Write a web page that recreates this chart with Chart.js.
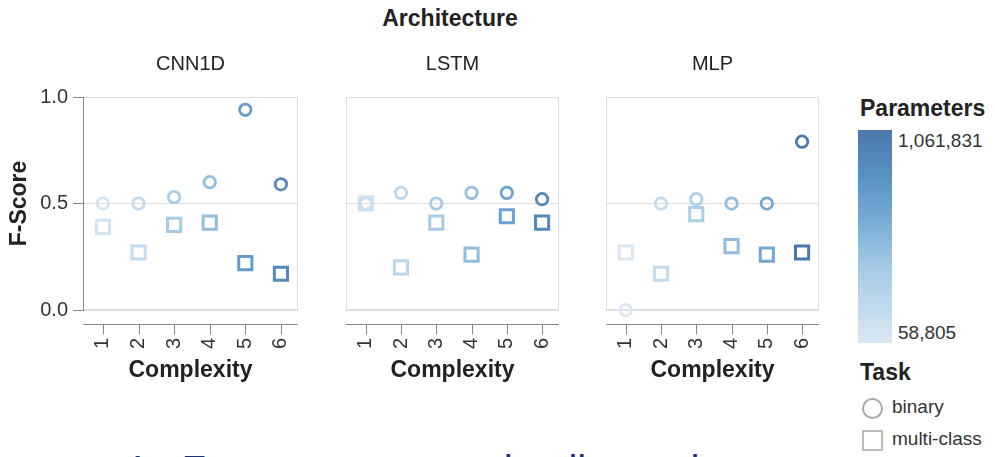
<!DOCTYPE html>
<html>
<head>
<meta charset="utf-8">
<script src="https://cdn.jsdelivr.net/npm/chart.js@4.4.0/dist/chart.umd.min.js"></script>
<style>
  body { margin: 0; width: 995px; height: 457px; overflow: hidden; background: #fff; position: relative;
         font-family: 'Liberation Sans', Arial, sans-serif; color: #222; }
  .abs { position: absolute; }
  .panel canvas { display: block; }
  #mainTitle { left: 350px; top: 4px; width: 200px; text-align: center; font-weight: bold; font-size: 23px; line-height: 28px; }
  .legTitle { font-weight: bold; font-size: 23px; line-height: 28px; }
  .legLabel { font-size: 19px; line-height: 22px; color: #333; }
  #gradBar { left: 858px; top: 130px; width: 34px; height: 213px; }
  #symCircle { left: 862px; top: 398px; width: 17px; height: 17px; border: 2px solid #aaa; border-radius: 50%; }
  #symSquare { left: 862px; top: 430px; width: 17px; height: 17px; border: 2.5px solid #bbb; }
  #caption { left: 126px; top: 450px; font-size: 40px; line-height: 40px; color: #1c3370; white-space: nowrap; }
</style>
</head>
<body>
<div id="mainTitle" class="abs">Architecture</div>

<div class="abs panel" style="left:0px;top:0px;"><canvas id="chartCNN1D" width="300" height="400"></canvas></div>
<div class="abs panel" style="left:340px;top:0px;"><canvas id="chartLSTM" width="225" height="400"></canvas></div>
<div class="abs panel" style="left:600px;top:0px;"><canvas id="chartMLP" width="225" height="400"></canvas></div>

<div class="abs legTitle" style="left:860px;top:94px;">Parameters</div>
<div id="gradBar" class="abs"></div>
<div id="paramMaxLabel" class="abs legLabel" style="left:898px;top:130px;"></div>
<div id="paramMinLabel" class="abs legLabel" style="left:898px;top:322px;"></div>
<div class="abs legTitle" style="left:860px;top:358px;">Task</div>
<div id="symCircle" class="abs"></div>
<div class="abs legLabel" style="left:892px;top:396px;">binary</div>
<div id="symSquare" class="abs"></div>
<div class="abs legLabel" style="left:892px;top:428px;">multi-class</div>

<div id="caption" class="abs">1.&nbsp;&nbsp;Fewer resources do all to reduce cost</div>

<script>
// --- data ---
var complexity = [1, 2, 3, 4, 5, 6];
var yTicks = [0, 0.5, 1];

var binaryCNN1D = [0.50, 0.50, 0.53, 0.60, 0.94, 0.59];
var multiCNN1D  = [0.39, 0.27, 0.40, 0.41, 0.22, 0.17];
var paramsCNN1D = [109000, 209000, 410000, 510000, 761000, 911000];

var binaryLSTM = [0.50, 0.55, 0.50, 0.55, 0.55, 0.52];
var multiLSTM  = [0.50, 0.20, 0.41, 0.26, 0.44, 0.41];
var paramsLSTM = [159000, 259000, 410000, 510000, 711000, 911000];

var binaryMLP = [0.00, 0.50, 0.52, 0.50, 0.50, 0.79];
var multiMLP  = [0.27, 0.17, 0.45, 0.30, 0.26, 0.27];
var paramsMLP = [58805, 209000, 360000, 510000, 661000, 1061831];

var paramMin = 58805;
var paramMax = 1061831;

// colour ramp for the Parameters scale
var rampStops = [
    [0.00, [218, 231, 243]],
    [0.35, [165, 203, 230]],
    [0.60, [115, 168, 212]],
    [0.80, [88, 143, 195]],
    [1.00, [75, 120, 172]]
];

function paramColor(p, alpha) {
    var t = (p - paramMin) / (paramMax - paramMin);
    t = Math.max(0, Math.min(1, t));
    for (var i = 1; i < rampStops.length; i++) {
        if (t <= rampStops[i][0]) {
            var a = rampStops[i - 1], b = rampStops[i];
            var f = (t - a[0]) / (b[0] - a[0]);
            var c = a[1].map(function(v, k) { return Math.round(v + (b[1][k] - v) * f); });
            return 'rgba(' + c[0] + ',' + c[1] + ',' + c[2] + ',' + alpha + ')';
        }
    }
}

// legend
document.getElementById('gradBar').style.background = 'linear-gradient(to top, ' +
    rampStops.map(function(s) { return 'rgb(' + s[1].join(',') + ') ' + (s[0] * 100) + '%'; }).join(', ') + ')';
document.getElementById('paramMaxLabel').textContent = paramMax.toLocaleString('en-US');
document.getElementById('paramMinLabel').textContent = paramMin.toLocaleString('en-US');

Chart.defaults.font.family = "'Liberation Sans', Arial, sans-serif";

// light frame around each plot area
var framePlugin = {
    id: 'frame',
    beforeDraw: function(chart) {
        var a = chart.chartArea, ctx = chart.ctx;
        ctx.save();
        ctx.strokeStyle = '#ddd';
        ctx.lineWidth = 1;
        ctx.strokeRect(Math.round(a.left) + 0.5, Math.round(a.top) + 0.5,
            Math.round(a.right - a.left) - 1, Math.round(a.bottom - a.top) - 1);
        ctx.restore();
    }
};

// x axis line sits a little below the plot
var offsetAxisPlugin = {
    id: 'offsetAxis',
    afterDraw: function(chart) {
        var a = chart.chartArea, ctx = chart.ctx, x = chart.scales.x;
        var y0 = Math.round(a.bottom) + 14 + 0.5;
        ctx.save();
        ctx.strokeStyle = '#888';
        ctx.lineWidth = 1;
        ctx.beginPath();
        ctx.moveTo(a.left, y0);
        ctx.lineTo(a.right, y0);
        x.ticks.forEach(function(t) {
            var px = Math.round(x.getPixelForValue(t.value)) + 0.5;
            ctx.moveTo(px, y0);
            ctx.lineTo(px, y0 + 10);
        });
        ctx.stroke();
        ctx.restore();
    }
};

function makePanel(canvasId, name, binary, multi, params, showY, padLeft, padRight) {
    var ctx = document.getElementById(canvasId).getContext('2d');
    var colors = params.map(function(p) { return paramColor(p, 1); });
    return new Chart(ctx, {
        type: 'scatter',
        data: {
            datasets: [
                {
                    label: 'binary',
                    data: complexity.map(function(c, i) { return { x: c, y: binary[i] }; }),
                    pointStyle: 'circle',
                    pointRadius: 5.75,
                    pointBorderWidth: 2.75,
                    pointBorderColor: colors,
                    pointBackgroundColor: 'rgba(0,0,0,0)',
                    clip: false
                },
                {
                    label: 'multi-class',
                    data: complexity.map(function(c, i) { return { x: c, y: multi[i] }; }),
                    pointStyle: 'rect',
                    pointRadius: 9.3,
                    pointBorderWidth: 3,
                    pointBorderColor: colors,
                    pointBackgroundColor: 'rgba(0,0,0,0)',
                    clip: false
                }
            ]
        },
        options: {
            responsive: false,
            animation: false,
            layout: { autoPadding: false, padding: { left: padLeft, right: padRight, top: 0, bottom: 16 } },
            plugins: {
                legend: { display: false },
                tooltip: { enabled: false },
                title: {
                    display: true,
                    text: name,
                    fullSize: false,
                    font: { size: 20, weight: 'normal' },
                    color: '#222',
                    padding: { top: 52, bottom: 21 }
                }
            },
            scales: {
                x: {
                    type: 'linear',
                    min: 0.44,
                    max: 6.48,
                    afterBuildTicks: function(s) { s.ticks = complexity.map(function(v) { return { value: v }; }); },
                    afterFit: function(s) { s.height = 74; s.paddingLeft = 0; s.paddingRight = 0; },
                    grid: { display: true, drawOnChartArea: false, drawTicks: true, tickLength: 24, tickColor: 'rgba(0,0,0,0)' },
                    border: { display: false },
                    ticks: {
                        autoSkip: false,
                        minRotation: 90,
                        maxRotation: 90,
                        padding: 4,
                        font: { size: 20 },
                        color: '#333',
                        callback: function(v) { return String(v); }
                    },
                    title: { display: true, text: 'Complexity', font: { size: 23, weight: 'bold' }, color: '#222', padding: 0 }
                },
                y: {
                    min: 0,
                    max: 1,
                    afterBuildTicks: function(s) { s.ticks = yTicks.map(function(v) { return { value: v }; }); },
                    afterFit: function(s) { s.width = showY ? 83 : 0; s.paddingTop = 0; s.paddingBottom = 0; },
                    grid: { color: '#ddd', tickColor: '#888', tickLength: 10, drawTicks: showY },
                    border: { display: showY, color: '#888' },
                    ticks: {
                        display: showY,
                        padding: 5,
                        font: { size: 20 },
                        color: '#333',
                        callback: function(v) { return v.toFixed(1); }
                    },
                    title: { display: showY, text: 'F-Score', font: { size: 23, weight: 'bold' }, color: '#222', padding: { top: 6, bottom: 0 } }
                }
            }
        },
        plugins: [framePlugin, offsetAxisPlugin]
    });
}

makePanel('chartCNN1D', 'CNN1D', binaryCNN1D, multiCNN1D, paramsCNN1D, true, 0, 2);
makePanel('chartLSTM', 'LSTM', binaryLSTM, multiLSTM, paramsLSTM, false, 6, 6);
makePanel('chartMLP', 'MLP', binaryMLP, multiMLP, paramsMLP, false, 6, 6);
</script>
</body>
</html>
